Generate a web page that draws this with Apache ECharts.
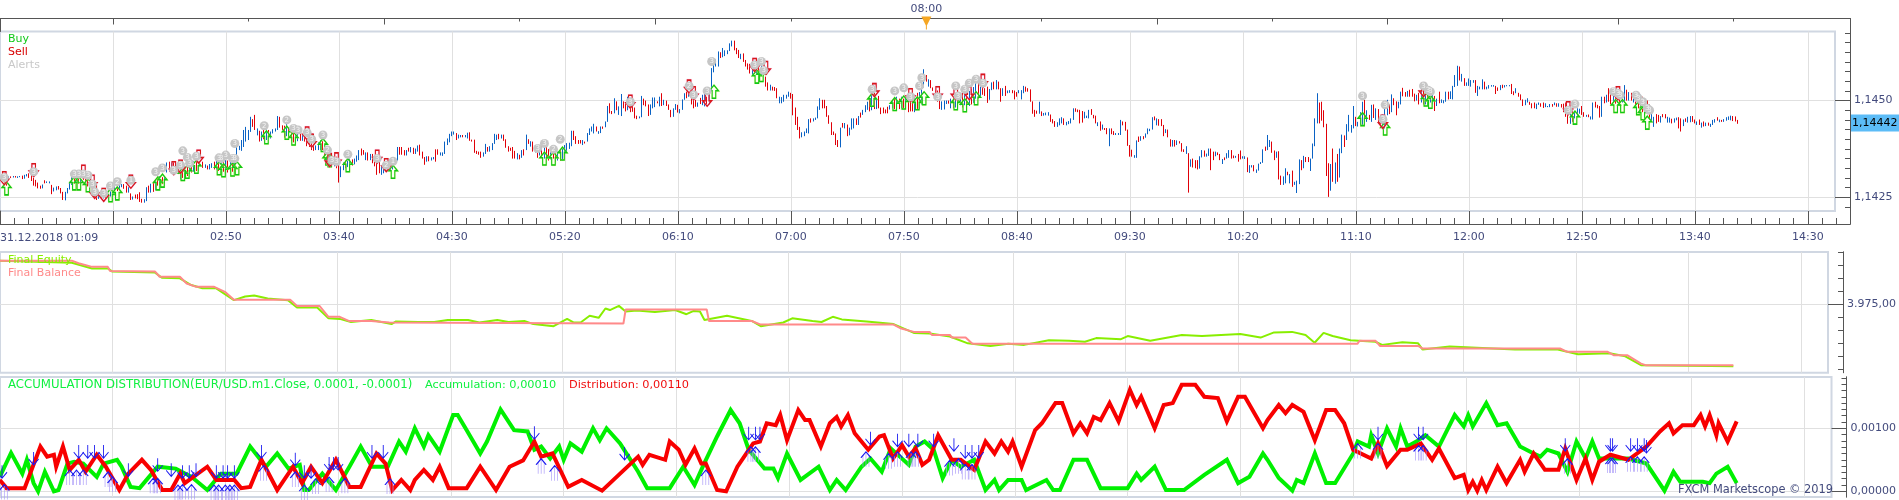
<!DOCTYPE html>
<html><head><meta charset="utf-8">
<style>html,body{margin:0;padding:0;background:#fff}#c{width:1899px;height:500px}</style>
<script src="https://cdn.jsdelivr.net/npm/echarts@6/dist/echarts.min.js"></script>
</head><body><div id="c"></div>
<script>
// EUR/USD one-minute bars. Prices are tenths of a pip above 1.1400; rows read open, close, low, high.
const priceBase = 1.14;
const bars0110 = [
300,296,293,306, 296,302,292,305, 302,292,288,304, 292,284,280,296, 296,303,294,304, 303,302,300,304, 302,304,301,305, 304,302,301,305,
302,303,300,304, 303,304,302,305, 305,299,297,306, 299,305,298,308, 305,308,304,310, 310,304,300,312, 305,298,292,311, 298,285,280,300,
290,283,278,295, 283,277,273,288, 277,274,272,280, 274,280,273,283, 292,287,286,294, 288,290,287,291, 288,290,286,291, 278,266,258,282,
268,273,265,275, 272,276,268,278, 276,272,270,279, 272,263,260,274, 262,248,243,264, 248,262,242,264, 262,272,260,274, 272,288,270,290,
288,300,282,306, 300,292,285,304, 292,300,288,304, 300,293,285,305, 293,302,288,310, 308,300,295,310, 300,296,285,304, 296,285,278,300,
285,278,272,290, 278,270,262,282, 270,258,248,272, 258,252,243,262, 252,256,246,258, 256,250,246,258, 250,254,247,256, 254,249,244,256,
249,256,245,258, 256,263,252,265, 263,270,258,274, 270,276,266,280, 276,270,266,282, 270,278,268,282, 278,280,276,284, 282,276,272,284,
276,268,262,280, 268,272,262,276, 258,247,243,260, 247,250,244,252, 255,250,247,257, 256,250,245,258, 262,245,238,263, 245,240,236,246,
240,243,236,245, 243,272,240,276, 278,266,262,280, 266,278,262,285, 285,272,264,290, 272,290,268,295, 298,286,280,300, 286,298,282,305,
298,290,284,302, 290,300,286,304, 316,336,314,340, 336,322,316,342, 322,334,318,340, 334,318,310,342, 318,328,314,332, 328,318,310,332,
316,330,296,338, 330,316,300,334, 316,326,302,332, 326,314,305,330, 314,328,310,332, 328,320,314,336, 320,338,316,344, 358,322,318,362,
322,332,318,334, 332,334,330,336, 338,328,326,342, 328,333,326,335, 330,324,322,332, 324,334,322,336, 332,336,326,338, 340,328,322,342,
328,340,322,345, 340,325,318,346, 325,338,320,345, 338,325,316,344, 325,340,318,346, 340,322,314,345, 322,336,316,342, 336,324,316,344,
324,338,320,344, 356,380,355,389, 376,381,372,383, 376,392,370,398, 392,420,380,424, 400,425,394,432, 405,422,398,424, 422,448,419,458,
450,435,432,452, 458,424,424,463, 412,424,410,428, 420,400,394,422, 400,412,396,420, 412,405,400,425, 405,415,398,425, 415,408,402,424,
408,418,402,420, 418,422,415,426, 422,426,420,428, 426,456,424,460, 456,432,430,458, 432,428,424,436, 430,412,404,435, 412,424,408,442,
424,405,400,428];
const bars0319 = [
415,405,395,425, 405,398,392,418, 398,410,392,420, 405,418,395,428, 412,400,396,416, 400,404,396,412, 408,398,394,412, 398,390,382,402,
390,386,380,396, 390,378,372,394, 384,376,370,388, 372,380,372,384, 378,385,372,392, 376,392,372,398, 392,378,372,395, 368,358,348,372,
356,350,342,365, 350,358,338,362, 356,342,332,360, 340,350,330,354, 350,333,325,355, 335,325,288,345, 303,327,302,330, 327,335,320,340,
340,332,325,345, 332,340,328,345, 340,345,335,350, 345,338,332,348, 338,346,335,350, 346,356,342,358, 350,368,346,372, 372,362,358,376,
368,362,360,372, 350,362,346,366, 362,345,345,366, 350,358,346,362, 358,345,338,362, 345,336,330,346, 342,312,308,344, 340,320,312,346,
320,328,308,330, 322,328,312,332, 328,322,318,332, 322,326,318,328, 326,338,320,342, 338,345,322,350, 345,340,335,348, 346,372,345,380,
378,360,360,380, 376,362,360,380, 366,360,358,372, 360,368,358,372, 376,372,368,378, 370,376,366,380, 375,365,362,378, 365,372,362,376,
372,380,368,384, 384,366,358,386, 366,358,350,368, 352,342,334,354, 342,350,342,356, 352,346,343,356, 346,350,345,353, 350,352,348,354,
368,348,342,374, 372,362,360,374, 360,364,358,366, 358,364,357,366, 366,392,362,394, 390,400,385,402, 398,412,392,414, 412,418,408,420,
416,418,412,420, 415,400,398,416, 405,410,402,412, 407,409,405,411, 409,407,405,411, 407,409,405,411, 405,415,402,417, 417,398,396,418,
398,396,394,399, 398,368,365,399, 368,364,362,370, 366,362,360,368, 366,352,352,368, 358,364,355,366, 364,385,362,388, 378,372,368,380,
372,380,368,382, 378,388,372,390, 392,412,388,414, 400,410,398,412, 412,404,400,414, 404,410,402,412, 408,398,396,412, 398,380,378,400,
380,372,368,382, 375,372,370,378, 378,352,350,380, 368,355,350,370, 355,362,348,364, 358,352,348,360, 354,368,352,372, 372,362,358,374,
372,400,372,412, 398,392,388,400, 384,392,381,395, 392,370,368,394, 370,378,366,382, 378,362,352,384, 362,372,358,385, 378,365,355,390,
365,378,350,392, 378,360,352,385, 365,355,345,375, 355,368,348,372, 368,358,350,378, 360,350,342,370, 350,362,345,368, 362,352,344,372,
352,366,345,376, 366,375,360,385, 375,382,370,390, 382,385,375,391, 385,415,382,422, 420,402,398,422, 402,392,388,408, 396,388,388,398];
const bars0527 = [
396,390,389,398, 390,396,385,398, 393,390,389,394, 394,408,394,416, 412,424,411,428, 420,428,420,433, 416,430,415,440, 432,420,420,433,
416,420,414,421, 420,430,416,433, 431,428,427,433, 432,440,431,446, 446,482,445,486, 492,470,467,493, 472,468,465,473, 468,495,467,506,
495,477,475,498, 465,480,463,485, 463,500,460,517, 498,482,480,498, 493,480,472,493, 480,490,475,510, 500,480,470,506, 488,475,471,505,
480,458,454,482, 460,454,452,461, 455,458,454,459, 460,510,457,512, 505,490,488,505, 500,488,485,500, 488,462,460,490, 465,488,463,490,
482,505,480,508, 485,505,483,508, 497,494,493,498, 490,505,485,510, 510,488,486,519, 490,498,488,502, 498,490,486,500, 490,478,476,490,
475,460,457,476, 465,478,458,480, 480,490,476,491, 488,475,469,489, 468,476,467,478, 476,498,476,503, 503,512,502,519, 520,510,506,523,
512,520,510,523, 512,500,490,525, 500,490,480,510, 502,490,484,502, 484,492,484,495, 505,495,491,507, 495,510,488,515, 490,515,485,517,
505,495,490,510, 495,525,490,532, 528,580,525,584, 575,600,573,605, 592,600,588,606, 600,625,588,627, 620,612,610,625, 618,635,612,636,
620,628,615,630, 622,628,620,630, 632,640,628,648, 640,645,640,655, 655,635,630,655, 636,622,620,636, 630,618,610,631, 608,620,607,621,
622,605,600,622, 605,590,588,605, 595,585,580,596, 590,575,570,595, 575,590,565,598, 590,578,570,600, 578,592,568,604, 592,580,570,605,
580,590,565,606, 590,578,565,600, 560,545,536,562, 545,530,526,547, 530,538,526,541, 535,530,526,536, 534,528,525,535, 530,507,506,532,
494,506,493,510, 495,506,493,509, 503,512,497,515, 508,512,505,515, 515,520,510,523, 518,508,505,520, 515,465,462,517, 480,440,437,482,
456,425,424,458, 430,405,402,432, 408,416,405,418, 412,418,408,420, 418,428,416,428, 420,448,415,452, 452,445,443,454, 448,451,446,454,
452,454,450,456, 455,482,454,485, 482,504,476,506, 500,490,480,502, 502,488,480,502, 486,462,458,486, 462,441,440,462, 442,415,411,444,
418,412,411,420, 415,387,385,415, 395,384,380,398, 380,428,379,430, 440,432,430,442, 430,440,428,442, 436,410,408,438, 412,428,410,430,
428,450,425,454, 430,452,428,454, 452,440,437,454, 440,458,437,460, 466,458,456,469, 464,470,463,476, 472,480,470,488, 480,490,476,497];
const bars0735 = [
495,480,472,508, 480,495,475,530, 495,483,478,525, 483,495,478,505, 510,490,480,512, 480,465,465,482, 480,468,467,482, 476,468,467,477,
483,470,467,484, 478,486,477,488, 486,494,480,500, 494,486,478,504, 480,495,475,510, 495,484,478,505, 484,496,480,510, 496,485,480,505,
485,498,478,510, 495,478,470,510, 490,475,472,505, 492,478,472,508, 480,496,470,515, 496,482,476,520, 482,500,478,522, 500,520,490,530,
535,572,534,581, 566,550,549,566, 540,555,536,555, 550,535,532,553, 532,526,525,534, 526,512,510,527, 525,505,497,526, 500,485,478,503,
485,497,476,498, 482,497,477,500, 495,499,491,500, 499,495,492,500, 490,498,480,505, 500,490,480,510, 490,505,482,515, 505,492,478,520,
490,500,488,508, 505,492,482,520, 492,505,488,530, 505,490,485,525, 490,510,486,525, 510,498,490,530, 498,515,494,535, 515,525,505,545,
530,515,505,550, 515,530,510,548, 540,520,515,548, 530,515,512,532, 530,495,494,536, 515,530,502,530, 530,545,527,547, 548,530,529,549,
530,550,529,553, 548,530,529,549, 530,497,497,532, 515,530,512,532, 537,520,512,538, 522,526,519,526, 524,526,520,527, 526,522,519,527,
523,515,503,526, 521,512,510,522, 520,526,519,527, 512,526,503,527, 520,535,519,538, 534,524,523,536, 530,524,523,532, 528,497,497,529,
497,467,466,498, 475,458,458,476, 470,466,466,474, 470,495,466,497, 470,462,460,472, 462,466,461,468, 463,467,462,469, 463,468,461,470,
463,450,445,464, 451,445,441,452, 446,435,432,447, 434,442,432,444, 440,452,436,454, 445,455,441,457, 452,442,437,454, 437,443,436,445,
440,446,439,447, 443,452,441,454, 450,476,450,480, 480,473,471,480, 476,471,470,477, 475,442,441,476, 472,445,443,473, 460,470,454,471,
456,460,455,461, 460,475,454,476, 477,465,463,478, 463,455,454,463, 460,445,441,461, 438,443,434,444, 445,425,422,446, 430,437,425,438,
428,425,424,429, 428,413,413,429, 420,428,382,428, 428,414,413,428, 420,412,411,421, 413,416,411,416, 413,416,411,416, 415,448,411,450,
445,438,436,446, 444,426,422,445, 424,388,383,425, 385,358,355,385, 372,358,355,373, 352,358,352,359, 355,395,352,397, 405,395,393,407,
398,405,396,408, 406,402,400,408, 405,412,404,415, 414,426,413,428, 424,426,421,427, 426,455,425,457, 458,450,449,459, 440,450,436,454];
const bars0943 = [
450,436,435,452, 452,436,434,452, 436,412,408,437, 418,425,416,426, 424,408,405,425, 400,382,381,400, 385,396,381,398, 396,382,381,398,
386,395,385,397, 394,390,389,395, 390,372,368,390, 374,367,367,374, 370,380,362,382, 362,350,262,364, 330,345,329,348, 346,335,327,350,
340,325,325,346, 345,325,322,346, 325,350,324,356, 354,368,353,372, 370,355,355,371, 358,362,355,363, 358,372,357,376, 375,345,320,376,
368,350,346,368, 358,365,356,368, 366,360,359,366, 362,348,346,362, 340,350,336,349, 352,348,346,353, 352,362,350,364, 355,370,352,372,
372,355,350,372, 358,355,351,358, 353,356,352,357, 360,350,342,362, 370,352,348,371, 352,355,350,356, 352,355,349,356, 352,330,315,353,
320,332,313,333, 328,332,327,333, 332,320,317,333, 316,322,313,322, 322,336,319,337, 337,340,336,341, 340,372,339,374, 380,371,370,381,
372,395,372,411, 382,392,380,398, 393,378,365,394, 370,350,346,371, 355,366,352,368, 368,312,296,369, 305,285,282,306, 285,303,282,304,
295,325,286,325, 315,308,307,316, 290,308,286,310, 318,292,277,319, 284,290,282,290, 270,290,261,293, 290,345,284,348, 345,325,320,346,
330,350,325,357, 352,342,341,354, 350,342,341,354, 325,345,318,350, 352,385,350,389, 385,450,382,454, 445,500,441,519, 490,445,441,495,
490,455,448,497, 470,440,431,475, 440,310,305,440, 330,285,251,338, 275,325,267,336, 375,300,290,376, 300,330,285,340, 360,300,290,362,
305,370,301,376, 365,410,364,412, 410,380,380,410, 400,430,398,439, 425,450,420,463, 420,436,417,437, 445,470,428,486, 455,435,434,458,
435,442,433,445, 442,450,438,470, 440,470,437,497, 480,450,449,502, 450,470,445,475, 462,450,450,463, 445,480,445,489, 480,465,455,490,
465,475,450,480, 470,450,440,478, 450,440,430,460, 440,450,430,465, 450,470,428,480, 470,480,462,502, 480,470,465,490, 475,495,470,516,
505,490,488,506, 498,465,462,498, 485,495,480,497, 495,515,490,523, 525,515,511,533, 520,512,510,522, 512,520,510,525, 525,515,510,528,
528,518,510,530, 512,500,498,518, 502,510,500,515, 510,498,490,520, 498,512,495,530, 512,495,490,535, 495,515,490,530, 515,500,492,535,
500,515,495,528, 510,520,490,525, 510,485,473,512, 495,505,486,505, 515,500,493,523, 495,502,494,503, 495,500,493,501, 500,520,497,523,
522,505,503,523, 505,520,504,524];
const bars1153 = [
510,530,503,538, 535,560,535,566, 545,570,538,590, 585,555,552,588, 555,560,549,569, 558,540,538,558, 542,546,538,547, 540,555,538,557,
540,552,536,553, 548,553,546,553, 553,530,520,553, 530,537,512,538, 530,536,529,536, 530,552,529,555, 548,530,529,549, 530,535,529,536,
532,538,531,540, 537,539,536,540, 536,538,536,540, 537,520,517,538, 530,526,525,534, 530,538,527,540, 540,533,532,541, 535,538,534,540,
537,539,537,540, 537,539,537,540, 543,525,517,543, 522,515,514,524, 520,530,519,532, 520,515,510,520, 515,505,501,516, 503,488,486,503,
490,500,488,502, 498,505,495,506, 497,492,489,497, 493,482,480,493, 494,482,480,495, 483,490,478,492, 490,494,489,495, 492,486,484,493,
495,482,481,495, 484,492,483,493, 484,486,483,486, 484,490,483,491, 491,485,484,491, 490,494,488,495, 492,484,484,493, 486,492,484,493,
490,482,482,491, 488,478,470,492, 482,460,458,495, 460,445,440,470, 445,462,440,475, 465,450,445,480, 455,470,454,471, 465,475,458,480,
470,478,466,479, 485,465,463,486, 466,462,458,470, 460,463,458,463, 462,458,457,464, 455,458,451,459, 458,492,451,495, 490,482,482,497,
486,480,480,489, 485,458,456,486, 460,505,458,510, 505,495,493,510, 497,508,495,515, 530,505,497,532, 520,500,490,528, 500,512,495,530,
512,498,492,525, 498,510,494,530, 510,498,494,520, 498,512,495,522, 505,530,497,540, 525,505,500,528, 505,518,500,522, 518,508,500,520,
508,520,495,522, 520,505,488,522, 505,495,480,520, 495,505,480,515, 505,488,470,510, 488,498,470,500, 498,478,465,500, 478,465,455,490,
465,475,448,480, 440,455,432,458, 460,445,441,465, 462,448,445,463, 450,458,443,460, 465,460,457,465, 465,455,454,465, 445,457,443,458,
447,455,443,456, 452,444,441,453, 447,453,443,454, 450,454,449,456, 456,430,428,457, 450,432,420,454, 438,450,434,451, 454,447,445,454,
445,455,443,458, 447,458,444,460, 456,446,445,460, 451,445,441,451, 440,445,437,446, 450,438,437,451, 436,442,430,443, 445,435,433,446,
436,442,434,443, 443,437,435,443, 436,440,432,440, 440,446,437,450, 445,451,443,452, 455,448,448,457, 445,450,444,451, 450,446,445,450,
446,450,445,452, 450,456,448,457, 450,458,450,459, 450,460,449,461, 460,452,447,460, 458,448,446,459, 450,442,440,450];
const lastPrice = 442;

// Trade and alert marks: minute of day, price, and for alerts the count shown inside the badge.
const buyTrades = [[73,273],[103,286],[105,286],[109,281],[119,255],[122,260],[140,286],[142,293],[151,310],[153,316],[157,329],[167,325],[169,320],[173,322],[175,325],[188,405],[197,417],[200,402],[213,385],[215,350],[216,346],[224,333],[244,316],[311,350],[315,350],[319,363],[386,523],[405,562],[407,566],[456,502],[466,491],[470,495],[476,493],[479,506],[493,493],[497,488],[502,506],[673,452],[683,428],[701,503],[703,497],[767,456],[785,486],[788,486],[795,480],[797,467],[799,443]];
const sellTrades = [[72,299],[85,320],[107,316],[111,290],[112,264],[116,256],[128,290],[147,325],[158,355],[150,329],[206,415],[208,396],[216,346],[219,348],[237,355],[241,333],[349,497],[375,536],[377,519],[383,502],[404,592],[409,584],[457,527],[473,514],[485,519],[493,519],[499,519],[505,551],[682,445],[700,527],[764,480],[786,519]];
const alertMarks = [[72,301,3],[85,316,3],[103,310,3],[105,310,3],[107,310,3],[109,307,3],[111,284,3],[112,264,3],[116,260,3],[119,279,3],[122,290,2],[128,294,1],[139,316,3],[142,326,3],[147,320,3],[150,333,3],[151,370,3],[153,353,3],[154,338,3],[157,356,3],[167,352,3],[168,350,3],[170,359,3],[173,350,3],[174,350,3],[174,389,3],[187,435,2],[197,450,2],[200,428,3],[202,424,3],[206,417,3],[208,400,3],[213,411,3],[215,372,2],[217,346,3],[219,342,3],[224,361,3],[237,350,3],[241,333,2],[244,343,1],[308,376,3],[311,389,3],[315,374,2],[318,400,2],[349,497,3],[375,538,2],[377,515,3],[383,525,3],[385,601,3],[404,592,3],[407,601,3],[408,578,3],[456,529,3],[466,525,3],[470,533,3],[473,510,3],[477,538,3],[478,559,3],[485,510,3],[493,538,3],[494,512,3],[497,529,3],[499,545,3],[502,555,3],[505,545,3],[673,512,3],[683,489,3],[682,452,3],[700,538,3],[702,527,3],[703,523,3],[764,475,3],[767,491,3],[784,523,3],[786,519,3],[787,514,3],[794,514,3],[795,506,3],[797,497,3],[799,480,3],[800,475,3]];

// Account curves: minute of day, account value.
const equityCurve = [[70,3983.4],[102,3983],[111,3981.9],[118,3981.9],[120,3981.3],[139,3981.1],[142,3980.1],[150,3980],[155,3978.7],[160,3978.1],[166,3978.1],[174,3975.8],[179,3976.5],[183,3976.7],[189,3976.1],[198,3975.8],[202,3974.4],[211,3974.4],[216,3972.3],[221,3972.2],[226,3971.6],[235,3972],[244,3971.2],[246,3971.7],[256,3971.6],[263,3971.6],[269,3972],[278,3972],[283,3971.5],[291,3972],[296,3971.6],[303,3971.8],[307,3971.2],[316,3970.8],[322,3972.2],[325,3971.5],[328,3971.5],[332,3972.8],[336,3972.4],[339,3974.2],[341,3973.9],[345,3974.7],[348,3973.6],[353,3973.8],[361,3973.5],[370,3973.9],[375,3973.1],[378,3973.7],[381,3973.6],[383,3972],[393,3972.8],[404,3971.8],[408,3970.8],[418,3971.5],[422,3972.3],[431,3971.8],[435,3971.6],[440,3972.6],[444,3972.1],[455,3971.7],[467,3971.2],[476,3969.5],[483,3969.4],[492,3968.8],[500,3967.5],[510,3967],[518,3967.4],[525,3967.2],[536,3968.1],[545,3968],[552,3967.8],[557,3968.5],[568,3968.3],[571,3968.9],[581,3968],[595,3969.1],[604,3968.9],[621,3969.3],[630,3968.6],[636,3969.6],[644,3969.7],[650,3969.1],[654,3967.6],[658,3969.5],[662,3968.9],[670,3968.1],[681,3967.8],[684,3967.2],[693,3967.7],[700,3967.5],[702,3966.3],[714,3966.9],[743,3966.3],[762,3966.3],[771,3965.4],[785,3965.6],[792,3965],[799,3963.3],[840,3963.1]];
const balanceCurve = [[70,3983.4],[102,3983.4],[105,3982.9],[111,3982.2],[118,3982.2],[119,3981.4],[139,3981.3],[141,3980.3],[150,3980.3],[153,3979],[157,3978.4],[165,3978.4],[170,3977.4],[174,3975.9],[199,3975.9],[202,3974.7],[212,3974.7],[216,3972.6],[221,3972.6],[225,3971.8],[235,3971.8],[243,3971.5],[347,3971.3],[348,3974],[384,3974],[385,3971.8],[404,3971.8],[408,3971.1],[467,3971.1],[470,3970.4],[476,3969.7],[483,3969.7],[484,3969.1],[492,3969.1],[493,3968.6],[499,3968.6],[502,3967.4],[673,3967.4],[674,3968],[681,3968],[683,3967],[700,3967],[702,3966.5],[763,3966.5],[766,3965.9],[784,3965.9],[787,3965.2],[793,3965.2],[799,3963.6],[801,3963.3],[840,3963.3]];

// Accumulation and distribution levels in units of 0.00001.
const accumulation = [[70,23],[75,61],[80,28],[82,50],[85,13],[87,0],[90,31],[94,0],[96,2],[100,44],[103,47],[107,44],[113,23],[116,44],[122,50],[124,39],[128,7],[132,5],[140,39],[148,36],[155,23],[162,2],[168,28],[175,28],[181,71],[188,39],[193,60],[198,36],[203,42],[205,2],[207,2],[213,28],[219,2],[225,39],[230,71],[235,39],[242,39],[247,79],[250,63],[254,100],[258,71],[260,89],[265,63],[271,121],[273,121],[277,97],[283,60],[286,79],[292,130],[298,97],[304,95],[307,66],[310,71],[314,52],[318,71],[320,50],[323,76],[328,63],[333,100],[336,81],[339,100],[345,76],[353,31],[357,5],[367,5],[373,39],[378,10],[382,42],[388,87],[394,129],[398,108],[402,66],[409,36],[413,36],[415,21],[419,60],[425,18],[433,39],[438,2],[441,18],[445,2],[452,39],[456,52],[461,31],[465,68],[469,55],[473,42],[476,71],[480,79],[484,66],[488,21],[492,50],[496,39],[502,50],[507,2],[511,18],[513,2],[517,18],[523,18],[525,2],[534,18],[537,2],[540,2],[546,50],[552,50],[558,5],[570,5],[574,28],[576,18],[582,39],[587,2],[595,2],[604,26],[614,50],[619,13],[624,23],[630,60],[632,50],[637,21],[643,1],[645,18],[648,13],[653,60],[658,13],[662,13],[670,60],[672,79],[677,71],[678,89],[681,60],[685,100],[689,71],[691,100],[694,71],[698,79],[702,89],[708,71],[715,121],[719,103],[721,121],[723,103],[729,140],[734,105],[738,108],[744,71],[750,60],[753,55],[756,66],[761,60],[765,31],[769,79],[773,52],[776,79],[779,52],[792,52],[800,44],[808,1],[812,31],[815,15],[821,15],[825,15],[828,13],[831,28],[836,39],[840,13]];
const distribution = [[70,18],[73,5],[81,5],[88,71],[91,55],[94,58],[95,39],[98,71],[101,34],[105,50],[108,31],[113,58],[117,39],[123,2],[127,28],[133,50],[137,34],[142,2],[146,2],[150,28],[152,13],[162,39],[166,18],[174,18],[177,5],[181,7],[186,50],[193,2],[200,39],[204,13],[208,39],[213,13],[219,50],[225,7],[230,7],[237,60],[241,44],[244,2],[248,18],[252,2],[254,18],[258,34],[262,18],[265,39],[269,5],[277,5],[283,39],[290,2],[296,39],[302,49],[307,79],[310,55],[315,60],[322,7],[328,18],[337,1],[345,28],[353,55],[355,42],[358,58],[365,50],[367,79],[371,66],[374,42],[378,68],[381,44],[383,44],[388,2],[392,0],[397,39],[401,60],[404,76],[407,79],[410,108],[414,105],[416,121],[419,81],[424,129],[427,113],[429,113],[434,71],[438,108],[441,118],[443,103],[446,121],[449,92],[455,66],[460,87],[462,89],[466,52],[470,73],[473,55],[476,68],[479,42],[482,50],[486,89],[492,50],[496,50],[502,34],[507,79],[511,60],[514,79],[517,63],[519,79],[523,39],[529,97],[532,108],[538,140],[541,140],[546,92],[549,108],[552,92],[555,118],[558,113],[562,140],[566,111],[571,161],[574,137],[576,150],[582,100],[586,137],[590,140],[594,169],[600,169],[604,150],[610,148],[614,111],[619,150],[622,150],[630,100],[632,113],[637,137],[640,124],[643,137],[648,126],[653,81],[658,129],[662,129],[666,108],[670,66],[678,52],[681,76],[685,40],[691,66],[694,66],[700,76],[705,50],[708,68],[715,21],[719,26],[721,2],[723,15],[725,1],[727,18],[729,2],[734,39],[738,13],[744,50],[746,31],[750,60],[755,34],[761,34],[764,68],[769,18],[773,52],[776,18],[779,47],[784,58],[792,50],[800,71],[806,95],[810,108],[812,92],[816,105],[821,105],[824,121],[826,103],[828,121],[831,89],[832,108],[836,79],[840,111]];

// Signal arrows on the indicator pane.
const signalsDown = [[71,31],[85,52],[105,63],[109,63],[112,63],[116,63],[127,34],[140,42],[146,34],[151,31],[154,31],[157,34],[166,31],[169,31],[171,31],[174,31],[186,63],[201,51],[205,31],[208,31],[216,44],[218,44],[220,44],[235,63],[240,63],[307,93],[347,60],[402,92],[405,92],[407,92],[456,84],[468,81],[473,81],[477,81],[484,81],[493,74],[498,63],[501,63],[504,63],[681,92],[699,92],[701,92],[764,74],[784,74],[785,74],[793,74],[796,74],[799,74],[800,71]];
const signalsUp = [[72,-2],[101,21],[104,21],[107,21],[118,18],[120,10],[138,8],[140,8],[149,-3],[151,-2],[155,-2],[165,-3],[167,-3],[170,-3],[172,-3],[174,-3],[187,28],[201,18],[205,-3],[210,7],[216,10],[223,8],[243,7],[310,39],[316,28],[383,21],[403,58],[405,58],[454,50],[464,47],[468,50],[474,50],[476,50],[491,36],[495,39],[498,30],[501,30],[672,63],[681,63],[699,60],[701,60],[765,39],[784,40],[785,40],[793,42],[796,42],[799,42]];

// Axis marks, all in minutes of the day except the pane levels.
const gridTimes = [120,170,220,270,320,370,420,470,520,570,620,670,720,770,820,870];
const labelledTimes = [170,220,270,320,370,420,470,520,570,620,670,720,770,820,870];
const minorTimes = []; for (let t = 70; t < 885; t += 6.25) minorTimes.push(t);
const hourLong = [120,240,360,582,684,786];
const hourShort = [180,300,420,531,633,735,837];
const cursorTime = [480];
const priceLevels = [250,500];
const priceMinor = [225,275,300,325,350,375,400,425,450,475,525,550,575,600,625,650,675];
const equityLevels = [3975];
const equityMinor = [3962.5,3965,3967.5,3970,3972.5,3977.5,3980,3982.5,3985];
const indicatorLevels = [0,100];
const indicatorMinor = [10,20,30,40,50,60,70,80,90,110,120,130,140,150,160,170,180];

const tMin = 70.1, panelW = 1835, stripW = 1850, pxPerMin = 2.26;
const tMaxPanel = tMin + panelW / pxPerMin, tMaxStrip = tMin + stripW / pxPerMin;
const inkBlue = '#434b7d', axisInk = '#555555', gridGrey = '#e0e0e0';
const FONT = '"DejaVu Sans"';

function rows(start, flat) {
  const out = [];
  for (let i = 0; i + 3 < flat.length; i += 4) out.push([start + i / 4, flat[i], flat[i + 1], flat[i + 2], flat[i + 3]]);
  return out;
}
const candles = [].concat(rows(70, bars0110), rows(199, bars0319), rows(327, bars0527), rows(455, bars0735), rows(583, bars0943), rows(713, bars1153));

const hhmm = t => String(Math.floor(t / 60)).padStart(2, '0') + ':' + String(t % 60).padStart(2, '0');
const priceText = v => (priceBase + v / 100000).toFixed(4).replace('.', ',');
const tagText = v => (priceBase + v / 100000).toFixed(5).replace('.', ',');
const equityText = v => v.toFixed(2).replace('.', ',').replace(/^(\d)(\d{3})/, '$1.$2');
const indicatorText = v => (v / 100000).toFixed(5).replace('.', ',');

const panels = [{top: 31.5, height: 179.5}, {top: 252, height: 120.7}, {top: 377, height: 120}];
const grids = panels.map(p => ({left: 0, width: panelW, top: p.top, height: p.height, show: true, backgroundColor: '#fff', borderColor: '#d0d7e2', borderWidth: 2}));
grids.push({left: 0, width: stripW, top: 18.5, height: 13});
grids.push({left: 0, width: stripW, top: 211, height: 13});

function panelX(i) {
  return {type: 'value', gridIndex: i, min: tMin, max: tMaxPanel, axisLine: {show: false},
    axisTick: {show: false, customValues: gridTimes}, axisLabel: {show: false}, minorTick: {show: false},
    splitLine: {show: true, lineStyle: {color: gridGrey, width: 1}}};
}
function stripX(i, pos, ticks, len, labels, fmt, shiftLabel) {
  return {type: 'value', gridIndex: i, position: pos, min: tMin, max: tMaxStrip,
    axisLine: {show: true, onZero: false, lineStyle: {color: axisInk, width: 1}},
    axisTick: {show: true, inside: true, length: len, customValues: ticks, lineStyle: {color: axisInk, width: 1}},
    axisLabel: labels ? {show: true, customValues: labels, formatter: fmt, color: inkBlue, fontSize: 11, fontFamily: FONT, margin: shiftLabel, showMinLabel: true, showMaxLabel: true} : {show: false},
    splitLine: {show: false}};
}
function levelAxis(i, min, max, ticks, len, labelled, fmt) {
  return {type: 'value', gridIndex: i, position: 'right', offset: stripW - panelW, min, max, scale: true,
    axisLine: {show: true, onZero: false, lineStyle: {color: axisInk, width: 1}},
    axisTick: {show: true, inside: true, length: len, customValues: ticks, lineStyle: {color: axisInk, width: 1}},
    axisLabel: labelled ? {show: true, customValues: ticks, formatter: fmt, color: inkBlue, fontSize: 11, fontFamily: FONT, margin: 4} : {show: false},
    splitLine: labelled ? {show: true, lineStyle: {color: gridGrey, width: 1}} : {show: false}};
}
function edgeAxis(i, pos) {
  return {type: 'value', gridIndex: i, position: pos, min: 0, max: 1,
    axisLine: {show: true, onZero: false, lineStyle: {color: axisInk, width: 1}}, axisTick: {show: false}, axisLabel: {show: false}, splitLine: {show: false}};
}
const xAxes = [panelX(0), panelX(1), panelX(2),
  stripX(3, 'top', hourLong, 6), stripX(3, 'top', hourShort, 3), stripX(3, 'top', cursorTime, 0, cursorTime, hhmm, 4),
  stripX(4, 'bottom', gridTimes, 13, labelledTimes, hhmm, 8), stripX(4, 'bottom', minorTimes, 6)];
const yAxes = [
  levelAxis(0, 214.5, 678.6, priceLevels, 15, true, priceText), levelAxis(0, 214.5, 678.6, priceMinor, 5, false),
  levelAxis(1, 3961.85, 3985.06, equityLevels, 15, true, equityText), levelAxis(1, 3961.85, 3985.06, equityMinor, 5, false),
  levelAxis(2, -9.05, 181.4, indicatorLevels, 15, true, indicatorText), levelAxis(2, -9.05, 181.4, indicatorMinor, 5, false),
  edgeAxis(3, 'right'), edgeAxis(3, 'left'), edgeAxis(4, 'right'), edgeAxis(4, 'left')];

const upArrow = 'path://M5 0 L10 6 L7 6 L7 14 L3 14 L3 6 L0 6 Z';
const downArrow = 'path://M3 0 L7 0 L7 8 L10 8 L5 14 L0 8 L3 8 Z';
const thinDown = 'path://M5 0 L5 13 M0 7 L5 13 L10 7';
const thinUpHead = 'path://M0 6 L5 0 L10 6 L5 0 Z';
const thinUpShaft = 'path://M3 3 L3 14 M7 3 L7 14 M5 1 L5 14';

const series = [
  {type: 'candlestick', name: 'EUR/USD', xAxisIndex: 0, yAxisIndex: 0, data: candles, dimensions: ['t', 'o', 'c', 'l', 'h'],
    encode: {x: 't', y: ['o', 'c', 'l', 'h']}, barWidth: 1, large: false, progressive: 0, z: 3,
    itemStyle: {color: '#0a62c4', color0: '#e00008', borderColor: '#0a62c4', borderColor0: '#e00008', borderWidth: 1}},
  {type: 'scatter', name: 'Buy', xAxisIndex: 0, yAxisIndex: 0, data: buyTrades, symbol: upArrow, symbolSize: [9, 13], z: 4,
    itemStyle: {color: 'rgba(0,0,0,0)', borderColor: '#10c818', borderWidth: 1.3, opacity: 1, shadowColor: '#f4f470', shadowBlur: 1}},
  {type: 'scatter', name: 'Sell', xAxisIndex: 0, yAxisIndex: 0, data: sellTrades, symbol: downArrow, symbolSize: [9, 13], z: 4,
    itemStyle: {color: 'rgba(0,0,0,0)', borderColor: '#d81818', borderWidth: 1.3, opacity: 1, shadowColor: '#f0a0f0', shadowBlur: 1}},
  {type: 'scatter', name: 'Alerts', xAxisIndex: 0, yAxisIndex: 0, data: alertMarks, encode: {x: 0, y: 1}, symbol: 'circle', symbolSize: 9, z: 5,
    itemStyle: {color: '#c6c6c6', opacity: 1},
    label: {show: true, position: 'inside', formatter: p => String(p.value[2]), color: '#f4f4f4', fontSize: 7, fontFamily: FONT}},
  {type: 'line', name: 'Final Equity', xAxisIndex: 1, yAxisIndex: 2, data: equityCurve, showSymbol: false, z: 3,
    lineStyle: {color: '#88ee00', width: 2}},
  {type: 'line', name: 'Final Balance', xAxisIndex: 1, yAxisIndex: 2, data: balanceCurve, showSymbol: false, z: 4,
    lineStyle: {color: '#ff8a8a', width: 2}},
  {type: 'line', name: 'Accumulation', xAxisIndex: 2, yAxisIndex: 4, data: accumulation, showSymbol: false, z: 3,
    lineStyle: {color: '#00f000', width: 4, join: 'miter'}},
  {type: 'line', name: 'Distribution', xAxisIndex: 2, yAxisIndex: 4, data: distribution, showSymbol: false, z: 4,
    lineStyle: {color: '#f80000', width: 4, join: 'miter'}},
  {type: 'scatter', name: 'Signal down', xAxisIndex: 2, yAxisIndex: 4, data: signalsDown, symbol: thinDown, symbolSize: [10, 13], z: 5,
    itemStyle: {color: 'rgba(0,0,0,0)', borderColor: '#1a1af0', borderWidth: 1, opacity: 1}},
  {type: 'scatter', name: 'Signal up shaft', xAxisIndex: 2, yAxisIndex: 4, data: signalsUp, symbol: thinUpShaft, symbolSize: [6, 14], z: 5,
    itemStyle: {color: 'rgba(0,0,0,0)', borderColor: '#a898f8', borderWidth: 1, opacity: 1}},
  {type: 'scatter', name: 'Signal up head', xAxisIndex: 2, yAxisIndex: 4, data: signalsUp, symbol: thinUpHead, symbolSize: [10, 6], symbolOffset: [0, -5], z: 6,
    itemStyle: {color: 'rgba(0,0,0,0)', borderColor: '#1a1af0', borderWidth: 1, opacity: 1}},
  {type: 'scatter', name: 'Cursor', xAxisIndex: 5, yAxisIndex: 6, data: [[cursorTime[0], 0.66]], clip: false, symbol: 'path://M0 0 L10 0 L5.5 9 L5.5 13 L4.5 13 L4.5 9 Z', symbolSize: [10, 13], z: 6,
    itemStyle: {color: '#f5a623', opacity: 1}}
];

function text(x, y, s, fill, size, z) {
  return {type: 'text', x, y, z: z || 20, style: {text: s, fill, font: (size || 11) + 'px ' + FONT, textVerticalAlign: 'middle'}};
}
const chart = echarts.init(document.getElementById('c'), null, {renderer: 'canvas'});
chart.setOption({animation: false, backgroundColor: '#fff', grid: grids, xAxis: xAxes, yAxis: yAxes, series});
// Last-price tag sits on the price axis, so its place comes from that axis.
const tagY = chart.convertToPixel({yAxisIndex: 0}, lastPrice);
chart.setOption({graphic: {elements: [
  text(8, 39, 'Buy', '#10c818'), text(8, 52, 'Sell', '#d80000'), text(8, 65, 'Alerts', '#c8c8c8'),
  text(8, 260, 'Final Equity', '#88ee00'), text(8, 273, 'Final Balance', '#ff8a8a'),
  text(8, 385, 'ACCUMULATION DISTRIBUTION(EUR/USD.m1.Close, 0.0001, -0.0001)', '#10f040', 11.75),
  text(425, 385, 'Accumulation: 0,00010', '#10f040', 11.3), text(569, 385, 'Distribution: 0,00110', '#f01010', 11.3),
  text(0, 238, '31.12.2018 01:09', inkBlue),
  text(1678, 490.5, 'FXCM Marketscope © 2019', inkBlue, 11.4),
  {type: 'rect', shape: {x: 1851, y: tagY - 8.5, width: 48, height: 17}, style: {fill: '#5cbcf7'}, z: 21},
  text(1852, tagY, tagText(lastPrice), '#000', 11, 22)
]}});
</script></body></html>
